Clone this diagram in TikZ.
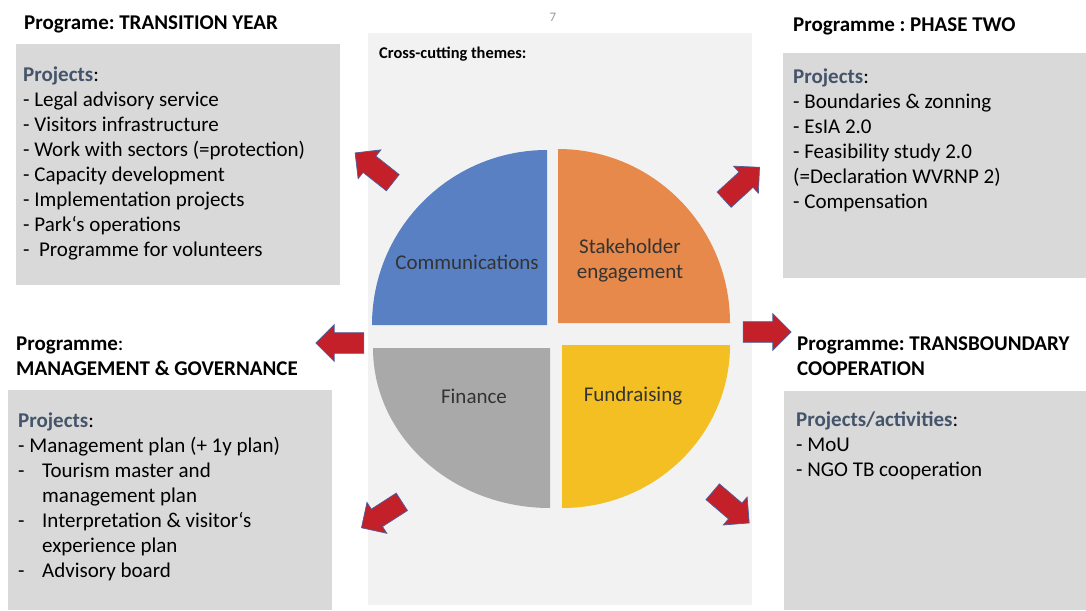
\documentclass[tikz,border=0pt]{standalone}
\usepackage{fontspec}
\setmainfont{Carlito}
\usetikzlibrary{shapes.arrows}
\definecolor{panel}{HTML}{F2F2F2}
\definecolor{boxgray}{HTML}{D9D9D9}
\definecolor{projblue}{HTML}{44546A}
\definecolor{commblue}{HTML}{5A80C4}
\definecolor{stakeorange}{HTML}{E6894B}
\definecolor{fingray}{HTML}{A9A9A9}
\definecolor{fundyellow}{HTML}{F3BF23}
\definecolor{arrowred}{HTML}{C4202A}
\definecolor{arrowline}{HTML}{4A5F9E}
\definecolor{themetext}{HTML}{333333}
\frenchspacing

\begin{document}
\begin{tikzpicture}[x=1pt,y=-1pt]
	\tikzstyle{bigarrow}=[single arrow,draw=arrowline,fill=arrowred,line width=.7pt,minimum height=48pt,inner xsep=0pt,inner ysep=10pt,text height=0pt,text depth=0pt,single arrow head extend=8pt];
	\tikzstyle{txt}=[anchor=north west,inner sep=0pt,align=left,font=\fontsize{21}{25}\selectfont];
	\tikzstyle{head}=[txt,font=\fontsize{21}{25}\selectfont\bfseries];
	\tikzstyle{theme}=[inner sep=0pt,align=center,text=themetext,font=\fontsize{21}{25}\selectfont];
	\useasboundingbox (0,0) rectangle (1086,610);
	% background panels
	\fill[panel] (368,33) rectangle (752,605);
	\fill[boxgray] (16,44) rectangle (340,285);
	\fill[boxgray] (783,53) rectangle (1086,278);
	\fill[boxgray] (8,390) rectangle (332,610);
	\fill[boxgray] (784,391) rectangle (1086,610);
	\node[text=gray!80,font=\fontsize{13}{15}\selectfont] (pagenum) at (553,17) {7};
	\node[anchor=west,inner sep=0pt,font=\fontsize{16.4}{18}\selectfont\bfseries] (cross) at (379,54) {Cross-cutting themes:};
	% the four themes
	\fill[commblue] (547,325) -- (372,325) arc[start angle=180,end angle=270,x radius=175,y radius=175] -- cycle;
	\fill[stakeorange] (558,323) -- (558,149) arc[start angle=270,end angle=360,x radius=172,y radius=174] -- cycle;
	\fill[fundyellow] (562,345) -- (730,345) arc[start angle=0,end angle=90,x radius=168,y radius=163] -- cycle;
	\fill[fingray] (550,348) -- (550,508) arc[start angle=90,end angle=180,x radius=177,y radius=160] -- cycle;
	\node[theme] (comm) at (467,262) {Communications};
	\node[theme] (stake) at (630,261) {Stakeholder\\ engagement};
	\node[theme] (fin) at (474,396) {Finance};
	\node[theme] (fund) at (633,396) {Fundraising};
	% arrows to the programmes
	\node[bigarrow,rotate=141.7] (arrTL) at (378,171) {};
	\node[bigarrow,rotate=42.5] (arrTR) at (738,187) {};
	\node[bigarrow,rotate=180] (arrL) at (345,343) {};
	\node[bigarrow] (arrR) at (762,332) {};
	\node[bigarrow,rotate=212.7] (arrBL) at (386,512) {};
	\node[bigarrow,rotate=-40.5] (arrBR) at (727,504) {};
	% programmes
	\node[head] (transHead) at (24,16) {Programe: TRANSITION YEAR};
	\node[txt] (transList) at (23,67) {\textbf{\textcolor{projblue}{Projects}}:\\
		- Legal advisory service\\
		- Visitors infrastructure\\
		- Work with sectors (=protection)\\
		- Capacity development\\
		- Implementation projects\\
		- Park‘s operations\\
		-\ \ Programme for volunteers};
	\node[head] (phaseHead) at (793,18) {Programme : PHASE TWO};
	\node[txt] (phaseList) at (793,69) {\textbf{\textcolor{projblue}{Projects}}:\\
		- Boundaries \& zonning\\
		- EsIA 2.0\\
		- Feasibility study 2.0\\
		(=Declaration WVRNP 2)\\
		- Compensation};
	\node[txt] (mgmtHead) at (16,337) {\textbf{Programme}:\\ \textbf{MANAGEMENT \& GOVERNANCE}};
	\node[txt] (mgmtList) at (18,413) {\textbf{\textcolor{projblue}{Projects}}:\\
		- Management plan (+ 1y plan)\\
		\makebox[24pt][l]{-}Tourism master and\\
		\hspace*{24pt}management plan\\
		\makebox[24pt][l]{-}Interpretation \& visitor‘s\\
		\hspace*{24pt}experience plan\\
		\makebox[24pt][l]{-}Advisory board};
	\node[head] (tbHead) at (797,337) {Programme: TRANSBOUNDARY\\ COOPERATION};
	\node[txt] (tbList) at (796,412) {\textbf{\textcolor{projblue}{Projects/activities}}:\\
		- MoU\\
		- NGO TB cooperation};
\end{tikzpicture}
\end{document}
